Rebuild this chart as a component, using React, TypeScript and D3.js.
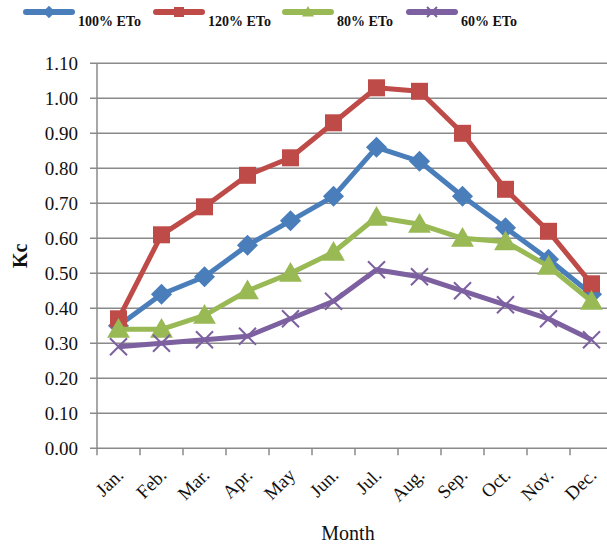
import React from "react";
import * as d3 from "d3";

const months = ["Jan.", "Feb.", "Mar.", "Apr.", "May", "Jun.", "Jul.", "Aug.", "Sep.", "Oct.", "Nov.", "Dec."];
const eto100 = [0.35, 0.44, 0.49, 0.58, 0.65, 0.72, 0.86, 0.82, 0.72, 0.63, 0.54, 0.44];
const eto120 = [0.37, 0.61, 0.69, 0.78, 0.83, 0.93, 1.03, 1.02, 0.9, 0.74, 0.62, 0.47];
const eto80 = [0.34, 0.34, 0.38, 0.45, 0.5, 0.56, 0.66, 0.64, 0.6, 0.59, 0.52, 0.42];
const eto60 = [0.29, 0.3, 0.31, 0.32, 0.37, 0.42, 0.51, 0.49, 0.45, 0.41, 0.37, 0.31];
const yTicks = [0, 0.1, 0.2, 0.3, 0.4, 0.5, 0.6, 0.7, 0.8, 0.9, 1.0, 1.1];

type Marker = "diamond" | "square" | "triangle" | "cross";
const series: { name: string; values: number[]; color: string; marker: Marker }[] = [
  { name: "100% ETo", values: eto100, color: "#4A7EBB", marker: "diamond" },
  { name: "120% ETo", values: eto120, color: "#BE4B48", marker: "square" },
  { name: "80% ETo", values: eto80, color: "#98B954", marker: "triangle" },
  { name: "60% ETo", values: eto60, color: "#7D60A0", marker: "cross" },
];

const W = 607;
const H = 547;
const left = 97;
const right = 613;
const top = 63.3;
const bottom = 448.3;
const serif = "'Liberation Serif', 'Times New Roman', serif";

function MarkerShape({ kind, x, y, color, s }: { kind: Marker; x: number; y: number; color: string; s: number }) {
  if (kind === "square") {
    return <rect x={x - s / 2} y={y - s / 2} width={s} height={s} fill={color} />;
  }
  if (kind === "diamond") {
    const r = s * 0.62;
    return <path d={`M${x},${y - r}L${x + r},${y}L${x},${y + r}L${x - r},${y}Z`} fill={color} />;
  }
  if (kind === "triangle") {
    const r = s * 0.6;
    return <path d={`M${x},${y - r}L${x + r},${y + r * 0.75}L${x - r},${y + r * 0.75}Z`} fill={color} />;
  }
  const r = s * 0.5;
  return (
    <path
      d={`M${x - r},${y - r}L${x + r},${y + r}M${x - r},${y + r}L${x + r},${y - r}`}
      stroke={color}
      strokeWidth={2}
      fill="none"
    />
  );
}

export default function App() {
  const x = d3.scaleBand<string>().domain(months).range([left, right]);
  const y = d3.scaleLinear().domain([0, 1.1]).range([bottom, top]);
  const cx = (m: string) => (x(m) as number) + x.bandwidth() / 2;
  const line = d3
    .line<number>()
    .x((_, i) => cx(months[i]))
    .y((v) => y(v));

  const markerSize: Record<Marker, number> = { diamond: 17, square: 17, triangle: 19, cross: 17 };
  const legendX = [24, 154, 283, 407];

  return (
    <svg width={W} height={H} style={{ position: "absolute", left: 0, top: 0, background: "#fff" }}>
      {/* gridlines and y labels */}
      {yTicks.map((t) => (
        <g key={t}>
          <line x1={left - 7} x2={right} y1={y(t)} y2={y(t)} stroke="#8a8a8a" strokeWidth={1.5} />
          <text
            x={78}
            y={y(t)}
            dy="0.35em"
            textAnchor="end"
            fontFamily={serif}
            fontSize={19}
            fill="#111"
          >
            {t.toFixed(2)}
          </text>
        </g>
      ))}
      {/* axes */}
      <line x1={left} x2={left} y1={top} y2={bottom} stroke="#8a8a8a" strokeWidth={1.5} />
      {d3.range(months.length + 1).map((i) => {
        const xx = left + i * x.bandwidth();
        return <line key={i} x1={xx} x2={xx} y1={bottom} y2={bottom + 7} stroke="#8a8a8a" strokeWidth={1.5} />;
      })}
      {months.map((m) => (
        <text
          key={m}
          transform={`translate(${cx(m) + 6},${bottom + 28}) rotate(-45)`}
          textAnchor="end"
          fontFamily={serif}
          fontSize={19}
          fill="#111"
        >
          {m}
        </text>
      ))}
      <text x={348} y={540} textAnchor="middle" fontFamily={serif} fontSize={20} fill="#111">
        Month
      </text>
      <text
        transform={`translate(27,${(top + bottom) / 2}) rotate(-90)`}
        textAnchor="middle"
        fontFamily={serif}
        fontSize={20}
        fontWeight="bold"
        fill="#111"
      >
        Kc
      </text>
      {/* series */}
      {series.map((s) => (
        <g key={s.name}>
          <path d={line(s.values) || ""} fill="none" stroke={s.color} strokeWidth={5} strokeLinejoin="round" />
          {s.values.map((v, i) => (
            <MarkerShape key={i} kind={s.marker} x={cx(months[i])} y={y(v)} color={s.color} s={markerSize[s.marker]} />
          ))}
        </g>
      ))}
      {/* legend */}
      {series.map((s, i) => {
        const lx = legendX[i];
        return (
          <g key={s.name}>
            <line x1={lx + 2} x2={lx + 48} y1={12} y2={12} stroke={s.color} strokeWidth={6} strokeLinecap="round" />
            <MarkerShape kind={s.marker} x={lx + 25} y={12} color={s.color} s={10} />
            <text x={lx + 54} y={26} fontFamily={serif} fontSize={14} fontWeight="bold" fill="#111">
              {s.name}
            </text>
          </g>
        );
      })}
    </svg>
  );
}
